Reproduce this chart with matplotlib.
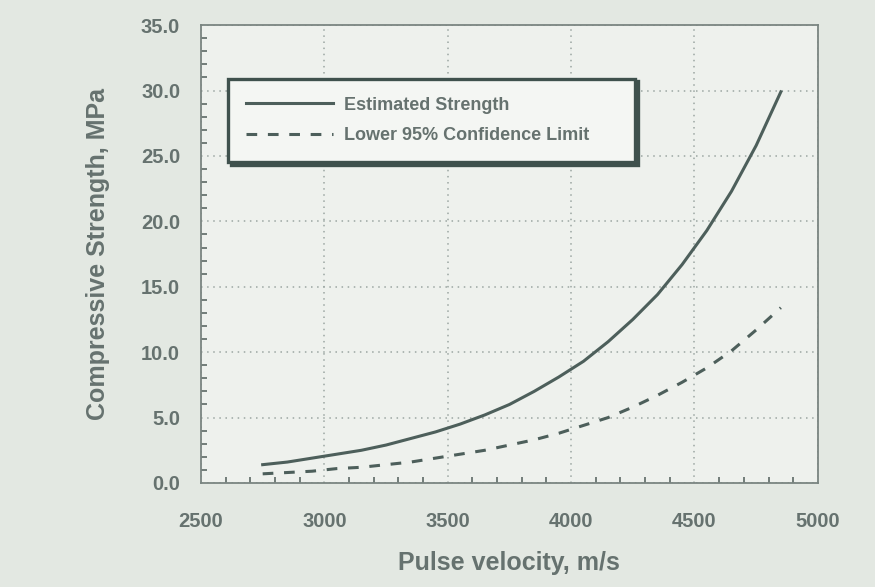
"""
Compressive strength vs pulse velocity, with the lower 95% confidence limit.
"""

import matplotlib.pyplot as plt
from matplotlib.ticker import MultipleLocator

# values
velocity = [2750, 2850, 2950, 3050, 3150, 3250, 3350, 3450, 3550, 3650, 3750,
            3850, 3950, 4050, 4150, 4250, 4350, 4450, 4550, 4650, 4750, 4850]
estimated = [1.4, 1.6, 1.9, 2.2, 2.5, 2.9, 3.4, 3.9, 4.5, 5.2, 6.0,
             7.0, 8.1, 9.3, 10.8, 12.5, 14.4, 16.7, 19.3, 22.3, 25.8, 29.9]
lower95 = [0.7, 0.8, 0.9, 1.1, 1.2, 1.4, 1.6, 1.9, 2.2, 2.5, 2.9,
           3.3, 3.8, 4.4, 5.0, 5.8, 6.7, 7.7, 8.8, 10.1, 11.7, 13.4]
x_ticks = [2500, 3000, 3500, 4000, 4500, 5000]
y_ticks = [0, 5, 10, 15, 20, 25, 30, 35]

plt.rcParams['font.family'] = ['Liberation Sans', 'DejaVu Sans']
plt.rcParams['font.weight'] = 'bold'
plt.rcParams['axes.labelweight'] = 'bold'

line_col = "#4d5f5b"
text_col = "#66726f"

fig = plt.figure(figsize=(8.75, 5.87), dpi=100, facecolor="#e3e8e2")
ax = fig.add_axes([0.2297, 0.1772, 0.705, 0.780], facecolor="#eef1ed")

ax.plot(velocity, estimated, color=line_col, lw=2.2, label="Estimated Strength")
ax.plot(velocity, lower95, color=line_col, lw=2.2, ls=(0, (3.5, 3.5)),
        label="Lower 95% Confidence Limit")

ax.set_xlim(2500, 5000)
ax.set_ylim(0, 35)
ax.set_xticks(x_ticks)
ax.set_yticks(y_ticks)
ax.set_yticklabels([f"{v:.1f}" for v in y_ticks])
ax.xaxis.set_minor_locator(MultipleLocator(100))
ax.yaxis.set_minor_locator(MultipleLocator(1))

ax.tick_params(which="both", direction="in", color="#5c6965")
ax.tick_params(which="major", length=0, labelsize=14.5, labelcolor=text_col)
ax.tick_params(axis="x", which="major", pad=21)
ax.tick_params(axis="y", which="major", pad=15)
ax.tick_params(which="minor", length=4, width=1.2)

ax.grid(True, which="major", ls=(0, (1, 3)), color="#9ba6a2", lw=1.1)
for s in ax.spines.values():
    s.set_color("#7a8581")
    s.set_linewidth(1.3)

ax.set_xlabel("Pulse velocity, m/s", fontsize=18, color=text_col, labelpad=14)
ax.set_ylabel("Compressive Strength, MPa", fontsize=18, color=text_col, labelpad=22)

leg = ax.legend(loc="upper left", bbox_to_anchor=(0.044, 0.883, 0.66, 0),
                mode="expand", borderaxespad=0, fancybox=False, framealpha=1,
                handlelength=4.8, fontsize=13, labelcolor=text_col,
                borderpad=1.0, labelspacing=0.75, handletextpad=0.6,
                facecolor="#f4f6f3", edgecolor="#3f514d",
                shadow={"color": "#3f514d", "alpha": 1})
leg.get_frame().set_linewidth(2.4)

fig.savefig("out.png", dpi=100, facecolor=fig.get_facecolor())
